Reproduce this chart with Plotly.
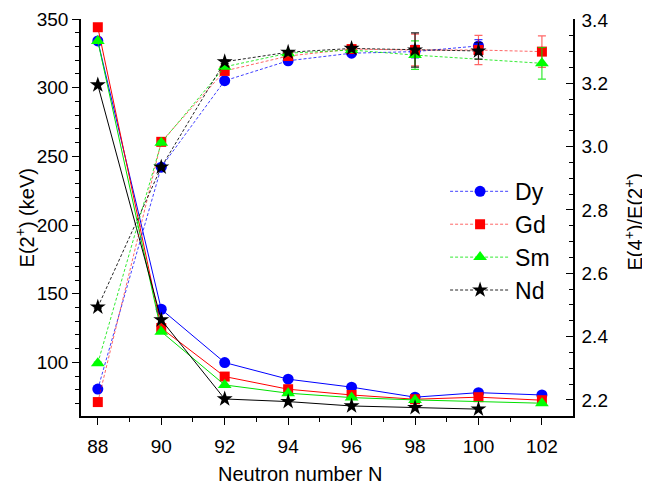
import plotly.graph_objects as go

N = [88, 90, 92, 94, 96, 98, 100, 102]

# E(2+) in keV (left axis), None = no data
e2_dy = [334, 138.7, 99.9, 87.8, 82.0, 74.7, 78.0, 76.3]
e2_gd = [344, 125.0, 89.7, 80.5, 76.3, 73.2, 74.7, 72.5]
e2_sm = [334, 122.4, 83.6, 77.6, 74.4, 72.7, None, 70.3]
e2_nd = [302, 131.0, 73.4, 71.5, 68.3, 67.1, 66.0, None]

# R4/2 = E(4+)/E(2+) (right axis)
r_dy = [2.234, 2.935, 3.208, 3.271, 3.295, 3.300, 3.318, None]
r_gd = [2.193, 3.015, 3.239, 3.286, 3.308, 3.305, 3.305, 3.300]
r_sm = [2.316, 3.012, 3.252, 3.295, 3.305, 3.289, None, 3.263]
r_nd = [2.493, 2.935, 3.268, 3.298, 3.310, 3.305, 3.302, None]

err_dy = [0.003, 0.005, 0.005, 0.005, 0.005, 0.02, 0.02, 0]
err_gd = [0.003, 0.005, 0.005, 0.005, 0.005, 0.05, 0.046, 0.05]
err_sm = [0.003, 0.005, 0.005, 0.005, 0.005, 0.045, 0, 0.05]
err_nd = [0.003, 0.005, 0.005, 0.005, 0.005, 0.054, 0.026, 0]

names = ["Dy", "Gd", "Sm", "Nd"]
colors = ["#0000FF", "#FF0000", "#00E000", "#000000"]
dcolors = ["rgba(0,0,255,0.75)", "rgba(255,0,0,0.6)", "rgba(0,230,0,0.8)", "rgba(0,0,0,0.85)"]
symbols = ["circle", "square", "triangle-up", "star"]
sizes = [11, 10, 12, 12]
mcolors = ["#0000FF", "#FF0000", "#00FF00", "#000000"]

e2_all = [e2_dy, e2_gd, e2_sm, e2_nd]
r_all = [r_dy, r_gd, r_sm, r_nd]
err_all = [err_dy, err_gd, err_sm, err_nd]


def clean(xs, ys, es=None):
    out = [(x, y, (es[i] if es else None)) for i, (x, y) in enumerate(zip(xs, ys)) if y is not None]
    return [o[0] for o in out], [o[1] for o in out], [o[2] for o in out]


fig = go.Figure()

for i in range(4):
    x, y, _ = clean(N, e2_all[i])
    fig.add_trace(go.Scatter(
        x=x, y=y, mode="lines+markers", yaxis="y", showlegend=False,
        line=dict(color=colors[i], width=1),
        marker=dict(symbol=symbols[i], size=sizes[i], color=mcolors[i], line=dict(width=0)),
    ))

for i in range(4):
    x, y, e = clean(N, r_all[i], err_all[i])
    fig.add_trace(go.Scatter(
        x=x, y=y, mode="lines+markers", yaxis="y2", name=names[i],
        line=dict(color=dcolors[i], width=1, dash="3px,2px"),
        marker=dict(symbol=symbols[i], size=sizes[i], color=mcolors[i], line=dict(width=0)),
        error_y=dict(type="data", array=e, visible=True, color=dcolors[i], thickness=1.2, width=4),
    ))

font_family = "Liberation Sans, Arial, sans-serif"
TF = 19

fig.update_layout(
    width=642, height=477,
    margin=dict(l=73, r=77, t=11, b=69, autoexpand=False),
    paper_bgcolor="white", plot_bgcolor="white",
    font=dict(family=font_family, size=TF, color="#000"),
    xaxis=dict(
        range=[87.47, 102.98], tickmode="array", tickvals=N, automargin=False,
        ticks="outside", ticklen=7, tickwidth=1.2, tickcolor="#000", ticklabelstandoff=5,
        minor=dict(dtick=1, tick0=88, ticks="outside", ticklen=4, tickcolor="#000"),
        showline=True, linecolor="#000", linewidth=1.5, showgrid=False, zeroline=False,
        tickfont=dict(size=TF),
    ),
    xaxis2=dict(
        overlaying="x", side="top", range=[87.47, 102.98], tickmode="array", tickvals=N,
        ticks="inside", ticklen=7, tickwidth=1.2, tickcolor="#000", automargin=False,
        minor=dict(dtick=1, tick0=88, ticks="inside", ticklen=4, tickcolor="#000"),
        showticklabels=False, showline=True, linecolor="#000", linewidth=1.5,
        showgrid=False, zeroline=False,
    ),
    yaxis=dict(
        range=[61, 350], tickmode="array", tickvals=[100, 150, 200, 250, 300, 350],
        ticks="outside", ticklen=7, tickwidth=1.2, tickcolor="#000", automargin=False,
        minor=dict(dtick=10, tick0=0, ticks="outside", ticklen=4, tickcolor="#000"),
        showline=True, linecolor="#000", linewidth=1.5, showgrid=False, zeroline=False,
        tickfont=dict(size=TF),
    ),
    yaxis2=dict(
        overlaying="y", side="right", range=[2.149, 3.403], automargin=False,
        tickmode="array", tickvals=[2.2, 2.4, 2.6, 2.8, 3.0, 3.2, 3.4],
        ticktext=["2.2", "2.4", "2.6", "2.8", "3.0", "3.2", "3.4"],
        ticks="inside", ticklen=7, tickwidth=1.2, tickcolor="#000", ticklabelstandoff=3,
        minor=dict(dtick=0.05, tick0=2.0, ticks="inside", ticklen=4, tickcolor="#000"),
        showline=True, linecolor="#000", linewidth=1.5, showgrid=False, zeroline=False,
        tickfont=dict(size=TF),
    ),
    legend=dict(
        x=0.74, y=0.62, xanchor="left", yanchor="top",
        bgcolor="rgba(0,0,0,0)", font=dict(size=23),
        itemwidth=60, tracegroupgap=0,
    ),
    annotations=[
        dict(text="Neutron number N", xref="paper", yref="paper", x=0.447, y=-0.146,
             xanchor="center", yanchor="middle", showarrow=False, font=dict(size=20)),
        dict(text="E(2<sup>+</sup>) (keV)", xref="paper", yref="paper", x=-0.114, y=0.50,
             xanchor="center", yanchor="middle", textangle=-90, showarrow=False,
             font=dict(size=20)),
        dict(text="E(4<sup>+</sup>)/E(2<sup>+</sup>)", xref="paper", yref="paper", x=1.122, y=0.49,
             xanchor="center", yanchor="middle", textangle=-90, showarrow=False,
             font=dict(size=20)),
    ],
)

fig.write_html("out.html")
